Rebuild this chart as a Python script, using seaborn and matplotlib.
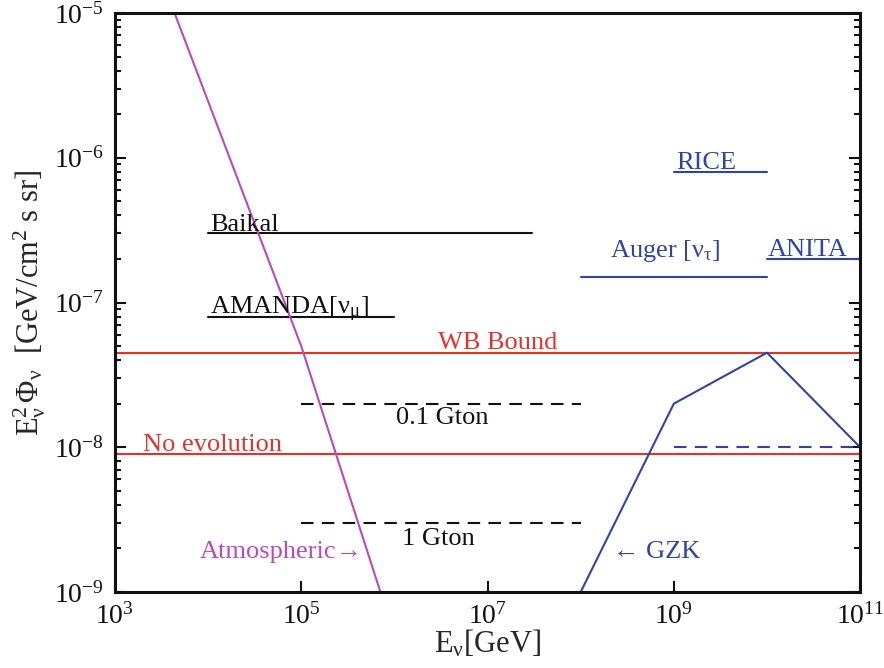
import numpy as np
import pandas as pd
import matplotlib
matplotlib.use('Agg')
import matplotlib.pyplot as plt
import matplotlib.ticker as mticker
import seaborn as sns

# --- data (E in GeV, flux in GeV/cm^2 s sr) ---
atmo_E = [10**3.64, 1e5, 10**5.85]
atmo_F = [1e-5, 5e-8, 1e-9]

gzk_E = [1e8, 1e9, 1e10, 1e11]
gzk_F = [1e-9, 2e-8, 4.5e-8, 1e-8]

# horizontal limits
limit_names = ['Baikal', 'AMANDA', 'RICE', 'Auger', 'ANITA', 'GZK low', '0.1 Gton', '1 Gton']
limit_E0 = [1e4, 1e4, 1e9, 1e8, 1e10, 1e9, 1e5, 1e5]
limit_E1 = [3e7, 1e6, 1e10, 1e10, 1e11, 1e11, 1e8, 1e8]
limit_F = [3e-7, 8e-8, 8e-7, 1.5e-7, 2e-7, 1e-8, 2e-8, 3e-9]

bound_names = ['WB Bound', 'No evolution']
bound_F = [4.5e-8, 9e-9]

BLACK = '#111111'
RED = '#e8302a'
BLUE = '#2e44a8'
MAGENTA = '#bd48bd'

limit_colors = [BLACK, BLACK, BLUE, BLUE, BLUE, BLUE, BLACK, BLACK]
limit_dashed = [False, False, False, False, False, True, True, True]

sns.set_style('white')
plt.rcParams['font.family'] = ['Liberation Serif', 'DejaVu Serif']
plt.rcParams['mathtext.fontset'] = 'custom'
plt.rcParams['mathtext.rm'] = 'Liberation Serif'
plt.rcParams['mathtext.it'] = 'Liberation Serif:italic'
plt.rcParams['mathtext.bf'] = 'Liberation Serif:bold'

fig = plt.figure(figsize=(8.84, 6.68), dpi=100)
ax = fig.add_axes([0.130, 0.1138, 0.843, 0.8667])

lw = 1.5
# WB bound / no evolution lines span the whole axis
for f in bound_F:
    sns.lineplot(x=[1e3, 1e11], y=[f, f], color=RED, lw=lw, ax=ax)

for i in range(len(limit_names)):
    sns.lineplot(x=[limit_E0[i], limit_E1[i]], y=[limit_F[i], limit_F[i]],
                 color=limit_colors[i], lw=lw, ax=ax,
                 linestyle=(0, (6, 4)) if limit_dashed[i] else '-')

sns.lineplot(x=atmo_E, y=atmo_F, color=MAGENTA, lw=lw, ax=ax, sort=False)
sns.lineplot(x=gzk_E, y=gzk_F, color=BLUE, lw=lw, ax=ax, sort=False)

ax.set_xscale('log')
ax.set_yscale('log')
ax.set_xlim(1e3, 1e11)
ax.set_ylim(1e-9, 1e-5)

fs = 19
ax.text(1.05e4, 3.1e-7, 'Baikal', color=BLACK, fontsize=fs, va='baseline')
ax.text(1.05e4, 8.3e-8, r'AMANDA[$\mathrm{ν}_\mathrm{μ}$]', color=BLACK, fontsize=fs, va='baseline')
ax.text(1.3e7, 4.75e-8, 'WB Bound', color=RED, fontsize=fs, ha='center', va='baseline')
ax.text(2.0e3, 9.4e-9, 'No evolution', color=RED, fontsize=fs, va='baseline')
ax.text(1.03e6, 1.45e-8, '0.1 Gton', color=BLACK, fontsize=fs, va='baseline')
ax.text(1.2e6, 2.1e-9, '1 Gton', color=BLACK, fontsize=fs, va='baseline')
ax.text(8.2e3, 1.72e-9, 'Atmospheric\u2192', color=MAGENTA, fontsize=fs, va='baseline')
ax.text(2.2e8, 1.72e-9, '\u2190 GZK', color=BLUE, fontsize=fs, va='baseline')
ax.text(1.07e9, 8.3e-7, 'RICE', color=BLUE, fontsize=fs, va='baseline')
ax.text(2.05e8, 2.05e-7, r'Auger [$\mathrm{ν}_{\mathrm{τ}}$]', color=BLUE, fontsize=fs, va='baseline')
ax.text(1.03e10, 2.08e-7, 'ANITA', color=BLUE, fontsize=fs, va='baseline')

# axes styling, MATLAB-like inward ticks
ax.xaxis.set_major_locator(mticker.FixedLocator([1e3, 1e5, 1e7, 1e9, 1e11]))
ax.xaxis.set_minor_locator(mticker.NullLocator())
ax.xaxis.set_major_formatter(mticker.FixedFormatter(
    [r'$10^{3}$', r'$10^{5}$', r'$10^{7}$', r'$10^{9}$', r'$10^{11}$']))
ax.yaxis.set_major_locator(mticker.LogLocator(base=10, numticks=10))
ax.yaxis.set_minor_locator(mticker.LogLocator(base=10, subs=np.arange(2, 10), numticks=20))
ax.tick_params(which='both', direction='in', top=False, right=True, bottom=True, left=True,
               colors=BLACK, labelsize=20, width=1.5)
ax.tick_params(which='major', length=8, pad=8)
ax.tick_params(which='minor', length=4)
for sp in ax.spines.values():
    sp.set_linewidth(2.2)
    sp.set_color(BLACK)
ax.grid(False)

ax.set_xlabel(r'E$_{\mathrm{ν}}$[GeV]', fontsize=22, labelpad=-1)
ax.set_ylabel(r'E$_{\mathrm{ν}}^2\,\mathrm{Φ}_{\mathrm{ν}}$  [GeV/cm$^2$ s sr]',
              fontsize=22, labelpad=4)

fig.savefig('out.png', dpi=100)
